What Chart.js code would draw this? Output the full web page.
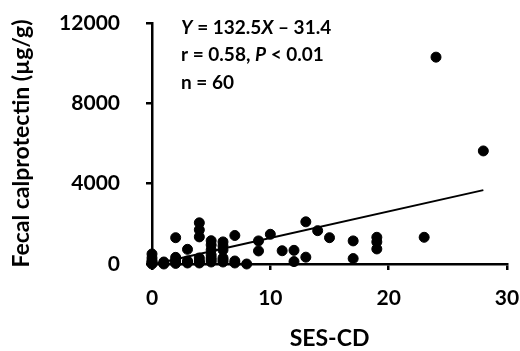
<!DOCTYPE html>
<html lang="en">
<head>
  <meta charset="UTF-8" />
  <title>Fecal calprotectin vs SES-CD</title>
  <script src="https://cdn.jsdelivr.net/npm/chart.js"></script>
  <style>
    html, body { margin: 0; padding: 0; background: #fff; }
    #wrap { width: 520px; height: 351px; }
  </style>
</head>
<body>
  <div id="wrap"><canvas id="scatter"></canvas></div>
  <script>
    // SES-CD score and calprotectin (µg/g) for each patient
    const sesCd = [0, 0, 0, 0, 0, 0, 1, 1, 1, 2, 2, 2, 2, 2, 3, 3, 3, 3,
      4, 4, 4, 4, 4, 4, 4, 5, 5, 5, 5, 5, 5, 5, 6, 6, 6, 6, 6, 6, 7, 7, 7,
      8, 9, 9, 10, 11, 12, 12, 13, 13, 14, 15, 17, 17, 19, 19, 19, 23, 24, 28];
    const calpro = [500, 300, 150, 100, 50, 0, 100, 50, 0, 1310, 330, 200, 100, 30, 730, 150, 100, 50,
      2050, 1700, 1350, 300, 150, 100, 50, 1160, 950, 700, 450, 300, 200, 100, 1100, 900, 700, 300, 200, 100, 1420, 150, 50,
      0, 1150, 650, 1480, 660, 680, 120, 2100, 340, 1660, 1310, 1150, 270, 1330, 1100, 750, 1330, 10300, 5630];

    // regression: Y = 132.5X - 31.4
    const slope = 132.5;
    const intercept = -31.4;
    const fitX = [0, 28];

    const xTicks = [0, 10, 20, 30];
    const yTicks = [0, 4000, 8000, 12000];

    const FONT = 'Lato, "Open Sans", Arial, sans-serif';

    const points = sesCd.map((x, i) => ({ x: x, y: calpro[i] }));
    const fitLine = fitX.map(x => ({ x: x, y: slope * x + intercept }));

    // text block in the top left of the plot
    const statsText = {
      id: 'statsText',
      afterDraw(chart) {
        const ctx = chart.ctx;
        const x0 = chart.chartArea.left + 29;
        const lines = [
          [['Y', true], [' = 132.5', false], ['X', true], [' \u2013 31.4', false]],
          [['r = 0.58, ', false], ['P', true], [' < 0.01', false]],
          [['n = 60', false]]
        ];
        const baselines = [34, 61, 89];
        ctx.save();
        ctx.fillStyle = '#000';
        ctx.textBaseline = 'alphabetic';
        lines.forEach((parts, i) => {
          let x = x0;
          parts.forEach(([txt, it]) => {
            ctx.font = (it ? 'italic ' : '') + 'bold 19px ' + FONT;
            ctx.fillText(txt, x, baselines[i]);
            x += ctx.measureText(txt).width;
          });
        });
        ctx.restore();
      }
    };

    new Chart(document.getElementById('scatter'), {
      type: 'scatter',
      data: {
        datasets: [
          {
            label: 'Patients',
            data: points,
            backgroundColor: '#000',
            borderColor: '#000',
            pointRadius: 5,
            pointHoverRadius: 5,
            clip: false
          },
          {
            type: 'line',
            label: 'Fit',
            data: fitLine,
            borderColor: '#000',
            borderWidth: 2,
            pointRadius: 0,
            fill: false
          }
        ]
      },
      options: {
        responsive: true,
        maintainAspectRatio: false,
        animation: false,
        layout: { padding: { left: 0, right: 13, top: 23, bottom: 0 } },
        plugins: { legend: { display: false }, tooltip: { enabled: false } },
        scales: {
          x: {
            type: 'linear',
            min: 0,
            max: 30,
            afterBuildTicks: s => { s.ticks = xTicks.map(v => ({ value: v })); },
            // fixed box, and no extra room asked for the tick labels
            afterFit: s => { s.height = 87; s.paddingLeft = 0; s.paddingRight = 0; },
            grid: { drawOnChartArea: false, drawTicks: true, tickLength: 6, color: '#000', lineWidth: 2.5 },
            border: { display: true, color: '#000', width: 2.5 },
            ticks: { color: '#000', padding: 16, callback: v => String(v), font: { family: FONT, size: 21, weight: 'bold' } },
            title: {
              display: true,
              text: 'SES-CD',
              color: '#000',
              padding: { top: 0, bottom: -1 },
              font: { family: FONT, size: 23, weight: 'bold' }
            }
          },
          y: {
            min: 0,
            max: 12000,
            afterBuildTicks: s => { s.ticks = yTicks.map(v => ({ value: v })); },
            afterFit: s => { s.width = 152; s.paddingTop = 0; s.paddingBottom = 0; },
            grid: { drawOnChartArea: false, drawTicks: true, tickLength: 6, color: '#000', lineWidth: 2.5 },
            border: { display: true, color: '#000', width: 2.5 },
            ticks: { color: '#000', padding: 26, callback: v => String(v), font: { family: FONT, size: 21, weight: 'bold' } },
            title: {
              display: true,
              text: 'Fecal calprotectin (\u00b5g/g)',
              color: '#000',
              padding: { top: 8, bottom: 0 },
              font: { family: FONT, size: 23, weight: 'bold' }
            }
          }
        }
      },
      plugins: [statsText]
    });
  </script>
</body>
</html>
